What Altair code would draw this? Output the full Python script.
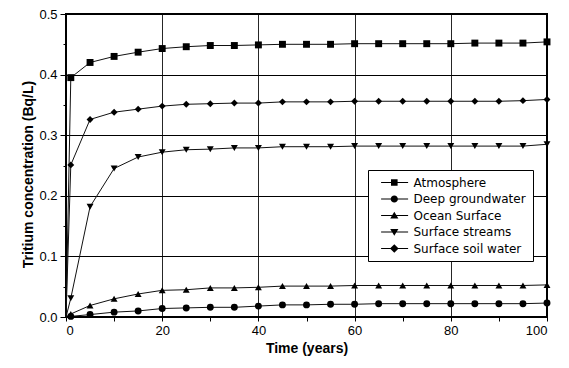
import altair as alt
import pandas as pd

times = [0, 1, 5, 10, 15, 20, 25, 30, 35, 40, 45, 50, 55, 60, 65, 70, 75, 80, 85, 90, 95, 100]
names = ["Atmosphere", "Deep groundwater", "Ocean Surface", "Surface streams", "Surface soil water"]

atmosphere = [0, 0.395, 0.420, 0.430, 0.437, 0.443, 0.446, 0.448, 0.448, 0.449, 0.450, 0.450,
              0.450, 0.451, 0.451, 0.451, 0.451, 0.451, 0.452, 0.452, 0.452, 0.454]
deep_groundwater = [0, 0.001, 0.004, 0.008, 0.010, 0.014, 0.015, 0.016, 0.016, 0.018, 0.020, 0.020,
                    0.021, 0.021, 0.022, 0.022, 0.022, 0.022, 0.022, 0.022, 0.022, 0.023]
ocean_surface = [0, 0.005, 0.019, 0.030, 0.038, 0.044, 0.045, 0.048, 0.048, 0.049, 0.051, 0.051,
                 0.051, 0.052, 0.052, 0.052, 0.052, 0.052, 0.052, 0.052, 0.052, 0.053]
surface_streams = [0, 0.031, 0.182, 0.245, 0.264, 0.272, 0.276, 0.277, 0.279, 0.279, 0.281, 0.281,
                   0.281, 0.282, 0.282, 0.282, 0.282, 0.282, 0.282, 0.282, 0.282, 0.285]
surface_soil_water = [0, 0.251, 0.326, 0.338, 0.343, 0.348, 0.351, 0.352, 0.353, 0.353, 0.355, 0.355,
                      0.355, 0.356, 0.356, 0.356, 0.356, 0.356, 0.356, 0.356, 0.357, 0.359]

x_ticks = [0, 10, 20, 30, 40, 50, 60, 70, 80, 90, 100]
y_ticks = [0.0, 0.05, 0.1, 0.15, 0.2, 0.25, 0.3, 0.35, 0.4, 0.45, 0.5]

series_values = [atmosphere, deep_groundwater, ocean_surface, surface_streams, surface_soil_water]
rows = []
for name, vals in zip(names, series_values):
    for t, v in zip(times, vals):
        rows.append({"series": name, "t": t, "v": v})
df = pd.DataFrame(rows)

marker_shapes = ["square", "circle", "triangle-up", "triangle-down", "diamond"]
# legend glyph: thin filled bar (the line) with the marker in its middle (unit = 6 px)
line_part = "M0.1,-0.09H4.6V0.09H0.1Z"
c = 2.3
legend_shapes = [
    line_part + f"M{c-0.55},-0.55H{c+0.55}V0.55H{c-0.55}Z",
    line_part + f"M{c-0.6},0A0.6,0.6 0 1,1 {c+0.6},0A0.6,0.6 0 1,1 {c-0.6},0Z",
    line_part + f"M{c},-0.62L{c+0.68},0.52L{c-0.68},0.52Z",
    line_part + f"M{c},0.62L{c-0.68},-0.52L{c+0.68},-0.52Z",
    line_part + f"M{c},-0.72L{c+0.72},0L{c},0.72L{c-0.72},0Z",
]

y_major = "abs(datum.value*10 - round(datum.value*10)) < 0.001"
x_major = "datum.value % 20 == 0"

x_enc = alt.X(
    "t:Q",
    scale=alt.Scale(domain=[0, 100], nice=False),
    axis=alt.Axis(
        title="Time (years)",
        values=x_ticks,
        labelExpr=f"{x_major} ? datum.label : ''",
        grid=True,
        gridColor="black",
        gridWidth=1,
        gridOpacity={"condition": {"test": x_major, "value": 0.85}, "value": 0},
        tickSize=4,
        tickColor="black",
        labelPadding=3,
        titlePadding=4,
        minExtent=20,
        maxExtent=20,
        domain=False,
        labelFontSize=13,
        titleFontSize=14,
    ),
)
y_enc = alt.Y(
    "v:Q",
    scale=alt.Scale(domain=[0, 0.5], nice=False),
    axis=alt.Axis(
        title="Tritium concentration (Bq/L)",
        values=y_ticks,
        labelExpr=f"{y_major} ? format(datum.value, '.1f') : ''",
        grid=True,
        gridColor="black",
        gridWidth=1,
        gridOpacity={"condition": {"test": y_major, "value": 1}, "value": 0},
        tickSize={"condition": {"test": y_major, "value": 6}, "value": 3},
        tickColor="black",
        labelPadding=3,
        titlePadding=5,
        minExtent=26,
        maxExtent=26,
        titleY=160,
        domain=False,
        labelFontSize=13,
        titleFontSize=14,
    ),
)

lines = alt.Chart(df).mark_line(color="#111", strokeWidth=1).encode(
    x=x_enc, y=y_enc, detail="series:N"
)

points = alt.Chart(df).transform_filter("datum.t > 0").mark_point(
    filled=True, color="black", opacity=1, size=48
).encode(
    x=x_enc,
    y=y_enc,
    shape=alt.Shape("series:N", scale=alt.Scale(domain=names, range=marker_shapes), legend=None),
)

legend_layer = alt.Chart(df).transform_filter("datum.t == 100").mark_point(
    filled=True, fill="black", opacity=0
).encode(
    x=x_enc,
    y=y_enc,
    shape=alt.Shape(
        "series:N",
        scale=alt.Scale(domain=names, range=legend_shapes),
        legend=alt.Legend(
            title=None,
            orient="none",
            legendX=302,
            legendY=156,
            symbolSize=144,
            symbolFillColor="black",
            symbolStrokeWidth=0,
            symbolOpacity=1,
            labelFont="DejaVu Sans",
            labelFontSize=12,
            labelColor="black",
            labelOffset=27,
            labelLimit=300,
            padding=6.5,
            rowPadding=4.5,
            strokeColor="black",
            fillColor="white",
            cornerRadius=0,
        ),
    ),
)

chart = alt.layer(lines, points, legend_layer).resolve_scale(shape="independent").properties(
    width=481,
    height=303,
    autosize=alt.AutoSizeParams(type="none"),
    padding={"left": 58, "top": 6, "right": 10, "bottom": 39},
).configure(
    font="Liberation Sans",
).configure_view(
    stroke="black", strokeWidth=2
).configure_axis(
    labelFont="Liberation Sans",
    titleFont="Liberation Sans",
    labelColor="black",
    titleColor="black",
    titleFontWeight="bold",
)

chart.save("out.html", embed_options={"renderer": "svg", "actions": False})
